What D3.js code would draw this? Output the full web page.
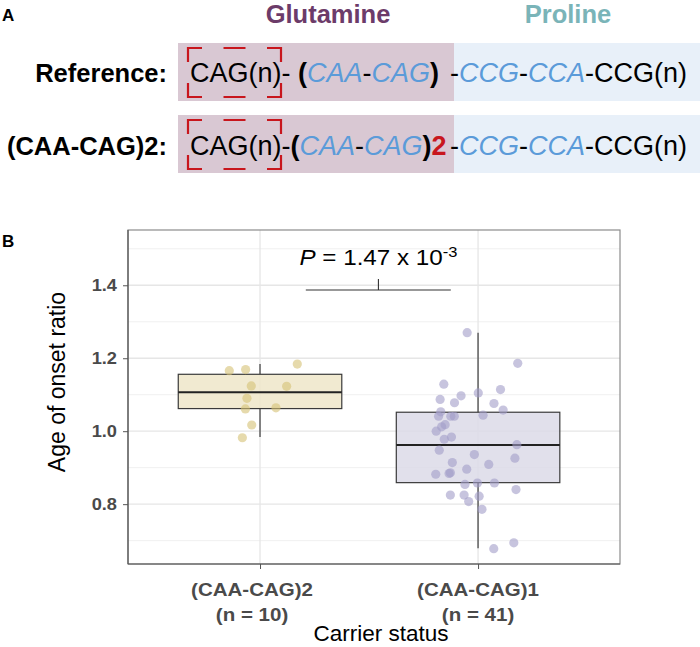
<!DOCTYPE html>
<html><head><meta charset="utf-8">
<script src="https://cdn.jsdelivr.net/npm/d3@7"></script>
<style>
html,body{margin:0;padding:0;background:#fff;}
svg{display:block;font-family:"Liberation Sans",Arial,Helvetica,sans-serif;}
</style></head>
<body>
<svg id="chart" width="700" height="647"></svg>
<script>
// ---------------- data ----------------
const categories = ["(CAA-CAG)2", "(CAA-CAG)1"];
const nLabels = ["(n = 10)", "(n = 41)"];
const yTicks = [0.8, 1.0, 1.2, 1.4];
const yMinorTicks = [0.7, 0.9, 1.1, 1.3, 1.5];

// Age of onset ratio, (CAA-CAG)2 carriers
const ratioCAA2 = [1.166, 1.169, 1.184, 1.124, 1.123, 1.090, 1.061, 1.064, 1.017, 0.982];
const jitterCAA2 = [-0.141, -0.066, 0.171, -0.040, 0.122, -0.060, -0.067, 0.073, -0.038, -0.081];

// Age of onset ratio, (CAA-CAG)1 carriers
const ratioCAA1 = [1.270, 1.186, 1.129, 1.114, 1.105, 1.097, 1.087, 1.078, 1.076, 1.058,
                   1.053, 1.041, 1.041, 1.041, 1.044, 1.018, 1.012, 1.000, 0.978, 0.984,
                   0.963, 0.948, 0.936, 0.926, 0.914, 0.909, 0.896, 0.882, 0.884, 0.886,
                   0.854, 0.858, 0.858, 0.840, 0.825, 0.825, 0.822, 0.807, 0.786, 0.694, 0.678];
const jitterCAA1 = [-0.050, 0.182, -0.157, 0.103, 0.001, -0.078, -0.174, -0.108, 0.073, 0.115,
                    -0.171, -0.181, -0.125, -0.109, 0.023, -0.151, -0.167, -0.192, -0.155, -0.122,
                    0.178, -0.178, -0.017, 0.169, -0.118, 0.049, -0.052, -0.194, -0.133, -0.127,
                    -0.060, -0.003, 0.075, 0.174, -0.127, -0.064, 0.005, -0.043, 0.018, 0.164, 0.072];

// box statistics
const boxLower  = [1.062, 0.859];
const boxMedian = [1.107, 0.9625];
const boxUpper  = [1.156, 1.052];
const whiskerLow  = [0.984, 0.679];
const whiskerHigh = [1.184, 1.270];

// significance annotation
const pMantissa = "1.47";
const pExponent = "-3";
const bracketY = 1.387;
const bracketX = [1.21, 1.875];
const bracketMid = 1.543;

// panel A text
const rowLabels = ["Reference:", "(CAA-CAG)2:"];
const regionLabels = ["Glutamine", "Proline"];

// ---------------- styles ----------------
const fillBox = ["#EEE6C9", "#DCDAE7"];
const fillPt  = ["#D6C175", "#A29DC8"];
const blue = "#5B9BD9";
const red = "#C8161D";
const SX = 1.14; // horizontal glyph stretch of panel B texts

const svg = d3.select("#chart");

// ================= Panel A =================
const A = svg.append("g");
A.append("text").attr("x", 2).attr("y", 21).attr("font-weight", "bold").attr("font-size", 17).text("A");
A.append("text").attr("x", 328).attr("y", 23).attr("text-anchor", "middle").attr("font-weight", "bold")
  .attr("font-size", 25.5).attr("fill", "#6C3B69").text(regionLabels[0]);
A.append("text").attr("x", 568).attr("y", 23).attr("text-anchor", "middle").attr("font-weight", "bold")
  .attr("font-size", 25.5).attr("fill", "#7AB4B8").text(regionLabels[1]);

const rowTop = [43, 115], rowH = 58, rowBase = [82, 155];
rowTop.forEach((t, i) => {
  A.append("rect").attr("x", 178).attr("y", t).attr("width", 276).attr("height", rowH).attr("fill", "#D9C8D3");
  A.append("rect").attr("x", 454).attr("y", t).attr("width", 246).attr("height", rowH).attr("fill", "#E8F0F9");
  A.append("text").attr("x", 167).attr("y", rowBase[i]).attr("text-anchor", "end").attr("font-weight", "bold")
    .attr("font-size", 25.5).text(rowLabels[i]);
  // dashed red bracket around CAG(n)
  const bx0 = 188, bx1 = 281, by0 = t + 5, by1 = t + 54, c = 14;
  const p = d3.path();
  p.moveTo(bx0, by0 + c); p.lineTo(bx0, by0); p.lineTo(bx0 + c, by0);
  p.moveTo(bx1 - c, by0); p.lineTo(bx1, by0); p.lineTo(bx1, by0 + c);
  p.moveTo(bx0, by1 - c); p.lineTo(bx0, by1); p.lineTo(bx0 + c, by1);
  p.moveTo(bx1 - c, by1); p.lineTo(bx1, by1); p.lineTo(bx1, by1 - c);
  const mx = (bx0 + bx1) / 2;
  p.moveTo(mx - 11, by0); p.lineTo(mx + 11, by0);
  p.moveTo(mx - 11, by1); p.lineTo(mx + 11, by1);
  A.append("path").attr("d", p.toString()).attr("fill", "none").attr("stroke", red).attr("stroke-width", 2.2);
});

function seq(g, x, y, parts) {
  const t = g.append("text").attr("x", x).attr("y", y).attr("font-size", 27).attr("xml:space", "preserve");
  parts.forEach(([s, st]) => {
    const ts = t.append("tspan").text(s);
    if (st === "b") ts.attr("fill", blue).attr("font-style", "italic");
    if (st === "k") ts.attr("font-weight", "bold");
    if (st === "r") ts.attr("fill", red).attr("font-weight", "bold");
  });
}
seq(A, 190, rowBase[0], [["CAG(n)- "], ["(", "k"], ["CAA", "b"], ["-"], ["CAG", "b"], [")", "k"]]);
seq(A, 190, rowBase[1], [["CAG(n)-"], ["(", "k"], ["CAA", "b"], ["-"], ["CAG", "b"], [")", "k"], ["2", "r"]]);
[0, 1].forEach(i => seq(A, 450, rowBase[i], [["-"], ["CCG", "b"], ["-"], ["CCA", "b"], ["-CCG(n)"]]));

// ================= Panel B =================
const L = 128, R = 620, T = 230, Bm = 564;
const x = d3.scaleLinear().domain([0.3945, 2.651]).range([L, R]);
const y = d3.scaleLinear().domain([0.636, 1.5515]).range([Bm, T]);
const B = svg.append("g");
B.append("text").attr("x", 2).attr("y", 247).attr("font-weight", "bold").attr("font-size", 17).text("B");

// grid
B.selectAll(".gmin").data(yMinorTicks).join("line")
  .attr("x1", L).attr("x2", R).attr("y1", d => y(d)).attr("y2", d => y(d))
  .attr("stroke", "#F0F0F0").attr("stroke-width", 1);
B.selectAll(".gmaj").data(yTicks).join("line")
  .attr("x1", L).attr("x2", R).attr("y1", d => y(d)).attr("y2", d => y(d))
  .attr("stroke", "#E6E6E6").attr("stroke-width", 1.3);
B.selectAll(".gx").data([1, 2]).join("line")
  .attr("x1", d => x(d)).attr("x2", d => x(d)).attr("y1", T).attr("y2", Bm)
  .attr("stroke", "#E6E6E6").attr("stroke-width", 1.3);
B.append("rect").attr("x", L).attr("y", T).attr("width", R - L).attr("height", Bm - T)
  .attr("fill", "none").attr("stroke", "#8C8C8C").attr("stroke-width", 1.2);

// boxes
const halfW = 0.375;
[0, 1].forEach(i => {
  const c = i + 1;
  B.append("line").attr("x1", x(c)).attr("x2", x(c)).attr("y1", y(whiskerHigh[i])).attr("y2", y(boxUpper[i]))
    .attr("stroke", "#555").attr("stroke-width", 1.4);
  B.append("line").attr("x1", x(c)).attr("x2", x(c)).attr("y1", y(boxLower[i])).attr("y2", y(whiskerLow[i]))
    .attr("stroke", "#555").attr("stroke-width", 1.4);
  B.append("rect").attr("x", x(c - halfW)).attr("y", y(boxUpper[i]))
    .attr("width", x(c + halfW) - x(c - halfW)).attr("height", y(boxLower[i]) - y(boxUpper[i]))
    .attr("fill", fillBox[i]).attr("fill-opacity", 0.85).attr("stroke", "#3A3A3A").attr("stroke-width", 1.2);
  B.append("line").attr("x1", x(c - halfW)).attr("x2", x(c + halfW)).attr("y1", y(boxMedian[i])).attr("y2", y(boxMedian[i]))
    .attr("stroke", "#222").attr("stroke-width", 2);
});

// points
const pts = [
  ...ratioCAA2.map((v, k) => ({g: 0, v, j: jitterCAA2[k]})),
  ...ratioCAA1.map((v, k) => ({g: 1, v, j: jitterCAA1[k]}))
];
B.selectAll(".pt").data(pts).join("circle")
  .attr("cx", d => x(d.g + 1 + d.j)).attr("cy", d => y(d.v)).attr("r", 4.6)
  .attr("fill", d => fillPt[d.g]).attr("fill-opacity", 0.6);

// axes
const yAxis = d3.axisLeft(y).tickValues(yTicks).tickFormat(d3.format(".1f")).tickSize(5).tickPadding(6);
const gy = B.append("g").attr("transform", `translate(${L},0)`).call(yAxis);
gy.select(".domain").attr("stroke", "#555").attr("stroke-width", 1.2).attr("d", `M0,${T}V${Bm}`);
gy.selectAll(".tick line").attr("stroke", "#555");
gy.selectAll(".tick text").attr("fill", "#4A4A4A").attr("font-size", 16).attr("font-weight", "bold")
  .attr("font-family", '"Liberation Sans",Arial,sans-serif')
  .attr("x", -11 / SX).attr("transform", `scale(${SX},1)`);

const xAxis = d3.axisBottom(x).tickValues([1, 2]).tickFormat("").tickSize(5);
const gx = B.append("g").attr("transform", `translate(0,${Bm})`).call(xAxis);
gx.select(".domain").attr("stroke", "#555").attr("stroke-width", 1.2).attr("d", `M${L},0H${R}`);
gx.selectAll(".tick line").attr("stroke", "#555");

[0, 1].forEach(i => {
  const t = B.append("text").attr("transform", `translate(${x(i + 1) - (i === 0 ? 8 : 0)},0) scale(${SX},1)`)
    .attr("text-anchor", "middle").attr("font-weight", "bold").attr("font-size", 18).attr("fill", "#4A4A4A");
  t.append("tspan").attr("x", 0).attr("y", 596).text(categories[i]);
  t.append("tspan").attr("x", 0).attr("y", 621).text(nLabels[i]);
});

B.append("text").attr("x", 381).attr("y", 641).attr("text-anchor", "middle")
  .attr("font-size", 22.5).text("Carrier status");
B.append("text").attr("transform", `translate(65,382) rotate(-90)`).attr("text-anchor", "middle")
  .attr("font-size", 23).text("Age of onset ratio");

// significance
const br = d3.path();
br.moveTo(x(bracketX[0]), y(bracketY)); br.lineTo(x(bracketX[1]), y(bracketY));
br.moveTo(x(bracketMid), y(bracketY)); br.lineTo(x(bracketMid), y(bracketY) - 11);
B.append("path").attr("d", br.toString()).attr("stroke", "#333").attr("stroke-width", 1.1).attr("fill", "none");
const pt = B.append("text").attr("transform", `translate(${x(bracketMid)},265) scale(1.1,1)`)
  .attr("text-anchor", "middle").attr("font-size", 22);
pt.append("tspan").attr("font-style", "italic").text("P");
pt.append("tspan").text(` = ${pMantissa} x 10`);
pt.append("tspan").attr("dy", -8).attr("font-size", 15).text(pExponent);
</script>
</body></html>
